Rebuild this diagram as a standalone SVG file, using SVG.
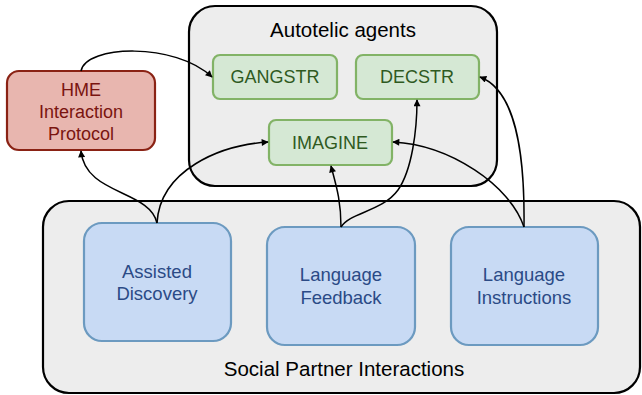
<svg xmlns="http://www.w3.org/2000/svg" width="642" height="395" viewBox="0 0 642 395">
<style>
text{font-family:"Liberation Sans",Arial,sans-serif;text-anchor:middle}
.cont{fill:#ededed;stroke:#000;stroke-width:2.2}
.g rect{fill:#d5e8d4;stroke:#82b366;stroke-width:2.2}
.g text{fill:#2f5a1f;font-size:18px}
.b rect{fill:#c8daf4;stroke:#6c9ac0;stroke-width:2.2}
.b text{fill:#2b4a86;font-size:18.5px}
.r rect{fill:#e8b6af;stroke:#8a2214;stroke-width:2.2}
.r text{fill:#7a1410;font-size:18px}
.t{font-size:20.5px;fill:#000}
#edges path{fill:none;stroke:#000;stroke-width:1.5;marker-end:url(#ah)}
</style>
<defs>
<marker id="ah" viewBox="0 0 10 10" refX="9" refY="5" markerWidth="8" markerHeight="7" orient="auto" markerUnits="userSpaceOnUse"><path d="M0,0 L10,5 L0,10 z" fill="#000"/></marker>
</defs>
<g id="autotelic">
<rect class="cont" x="189" y="6" width="308" height="180" rx="26"/>
<text class="t" x="343" y="37">Autotelic agents</text>
</g>
<g id="social">
<rect class="cont" x="43" y="201" width="597" height="192" rx="26"/>
<text class="t" x="344" y="376">Social Partner Interactions</text>
</g>
<g id="hme" class="r">
<rect x="7" y="71" width="148" height="79" rx="12"/>
<text x="81" y="96">HME</text>
<text x="81" y="118">Interaction</text>
<text x="81" y="140">Protocol</text>
</g>
<g id="gangstr" class="g">
<rect x="213" y="55" width="124" height="44" rx="7"/>
<text x="275" y="83">GANGSTR</text>
</g>
<g id="decstr" class="g">
<rect x="356" y="55" width="123" height="44" rx="7"/>
<text x="417" y="83">DECSTR</text>
</g>
<g id="imagine" class="g">
<rect x="269" y="120" width="123" height="45" rx="7"/>
<text x="330" y="149">IMAGINE</text>
</g>
<g id="assisted" class="b">
<rect x="84" y="223" width="147" height="118" rx="18"/>
<text x="157" y="278">Assisted</text>
<text x="157" y="300">Discovery</text>
</g>
<g id="feedback" class="b">
<rect x="267" y="227" width="148" height="118" rx="18"/>
<text x="341" y="281">Language</text>
<text x="341" y="304">Feedback</text>
</g>
<g id="instructions" class="b">
<rect x="451" y="227" width="147" height="118" rx="18"/>
<text x="524" y="281">Language</text>
<text x="524" y="304">Instructions</text>
</g>
<g id="edges">
<path d="M81,71 C86,45 175,42 212,77"/>
<path d="M157,223 C150,190 85,195 81,151"/>
<path d="M157,223 C160,170 220,145 268,142"/>
<path d="M341,227 C341,200 336,185 331,166"/>
<path d="M341,227 C350,212 382,212 398,190 C412,170 417,130 417,100"/>
<path d="M524,227 C510,185 450,145 393,142"/>
<path d="M524,227 C525,150 515,90 480,77"/>
</g>
</svg>
